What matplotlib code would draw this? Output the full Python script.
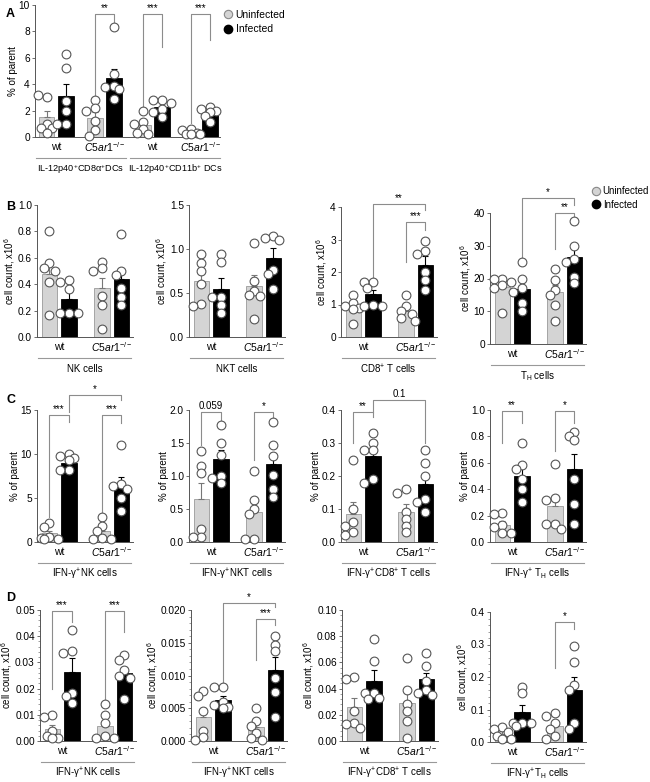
import numpy as np
import matplotlib
matplotlib.use('Agg')
import matplotlib.pyplot as plt
from matplotlib.lines import Line2D
from matplotlib.transforms import ScaledTranslation
from matplotlib.ticker import MultipleLocator, AutoMinorLocator, FormatStrFormatter

plt.rcParams['font.family'] = ['Liberation Sans', 'DejaVu Sans']
plt.rcParams['mathtext.fontset'] = 'custom'
plt.rcParams['mathtext.rm'] = 'Liberation Sans'
plt.rcParams['mathtext.it'] = 'Liberation Sans:italic'

# ---------------- data ----------------
# order inside each panel: wt uninf, wt inf, C5ar1 uninf, C5ar1 inf
a_mean = [1.5, 3.1, 1.45, 4.5, 0.9, 2.3, 0.35, 1.7]
a_sem = [0.5, 0.9, 0.45, 0.65, 0.3, 0.3, 0.1, 0.2]
a_pts = [[3.0, 3.2, 1.0, 0.7, 0.7, 0.3], [6.3, 5.2, 2.7, 2.0, 1.0, 1.0],
         [2.8, 2.2, 2.0, 1.2, 0.5, 0.1], [8.3, 4.8, 3.9, 3.8, 3.6, 2.9],
         [2.0, 1.1, 1.0, 0.6, 0.3, 0.2], [2.8, 2.8, 2.6, 2.1, 1.9, 1.5],
         [0.6, 0.5, 0.3, 0.2, 0.2, 0.2], [2.3, 2.1, 2.0, 1.9, 1.6, 1.1]]

b_nk_mean = [0.48, 0.29, 0.37, 0.44]
b_nk_sem = [0.08, 0.05, 0.08, 0.07]
b_nk_pts = [[0.80, 0.56, 0.52, 0.50, 0.42, 0.17], [0.43, 0.42, 0.36, 0.18, 0.18, 0.18],
            [0.57, 0.52, 0.50, 0.31, 0.24, 0.06], [0.78, 0.50, 0.47, 0.37, 0.30, 0.24]]
b_nkt_mean = [0.64, 0.55, 0.58, 0.90]
b_nkt_sem = [0.10, 0.12, 0.13, 0.11]
b_nkt_pts = [[0.94, 0.84, 0.75, 0.60, 0.37, 0.35], [0.94, 0.85, 0.46, 0.46, 0.36, 0.27],
             [1.07, 0.64, 0.52, 0.48, 0.47, 0.20], [1.15, 1.13, 1.10, 0.76, 0.72, 0.54]]
b_cd8_mean = [0.85, 1.32, 0.80, 2.23]
b_cd8_sem = [0.12, 0.12, 0.10, 0.25]
b_cd8_pts = [[1.3, 1.05, 0.95, 0.9, 0.85, 0.4], [1.7, 1.7, 1.5, 1.0, 0.95, 0.95],
             [1.3, 0.95, 0.8, 0.7, 0.6, 0.5], [2.95, 2.65, 2.55, 2.0, 1.75, 1.45]]
b_th_mean = [17.5, 16.8, 16.0, 26.5]
b_th_sem = [2.0, 2.3, 2.0, 2.8]
b_th_pts = [[20, 20, 19, 18, 17, 9.5], [25, 20, 17, 16, 12.5, 10],
            [23, 19.5, 16.5, 15, 12, 7], [37.5, 30, 26, 25, 20.5, 18.5]]

c_nk_mean = [1.0, 9.0, 1.2, 6.4]
c_nk_sem = [0.3, 0.35, 0.4, 1.0]
c_nk_pts = [[2.2, 1.7, 0.6, 0.5, 0.3, 0.3], [10.0, 9.8, 9.5, 9.3, 8.2, 8.2],
            [2.8, 1.8, 1.2, 0.5, 0.3, 0.3], [11.0, 6.6, 6.4, 6.0, 5.0, 3.5]]
c_nkt_mean = [0.65, 1.26, 0.45, 1.18]
c_nkt_sem = [0.25, 0.13, 0.16, 0.17]
c_nkt_pts = [[1.38, 1.15, 1.04, 0.20, 0.08, 0.08], [1.78, 1.50, 1.32, 1.00, 0.97, 0.90],
             [1.08, 0.64, 0.50, 0.42, 0.05, 0.05], [1.82, 1.47, 1.30, 1.02, 0.80, 0.68]]
c_cd8_mean = [0.085, 0.26, 0.092, 0.177]
c_cd8_sem = [0.035, 0.02, 0.022, 0.03]
c_cd8_pts = [[0.25, 0.10, 0.06, 0.05, 0.03, 0.02], [0.33, 0.30, 0.28, 0.28, 0.19, 0.18],
             [0.16, 0.15, 0.09, 0.07, 0.05, 0.03], [0.28, 0.24, 0.20, 0.13, 0.12, 0.09]]
c_th_mean = [0.13, 0.50, 0.27, 0.55]
c_th_sem = [0.03, 0.07, 0.08, 0.12]
c_th_pts = [[0.22, 0.21, 0.13, 0.11, 0.07, 0.07], [0.75, 0.58, 0.55, 0.48, 0.40, 0.30],
            [0.59, 0.33, 0.32, 0.14, 0.14, 0.10], [0.83, 0.80, 0.77, 0.48, 0.29, 0.14]]

d_nk_mean = [0.0047, 0.0265, 0.0058, 0.0258]
d_nk_sem = [0.0015, 0.005, 0.002, 0.0025]
d_nk_pts = [[0.010, 0.0093, 0.004, 0.002, 0.001, 0.001], [0.0425, 0.0345, 0.0335, 0.0185, 0.017, 0.0145],
            [0.014, 0.010, 0.007, 0.002, 0.001, 0.001], [0.033, 0.031, 0.027, 0.025, 0.024, 0.016]]
d_nkt_mean = [0.0036, 0.0062, 0.0022, 0.0108]
d_nkt_sem = [0.0012, 0.0007, 0.0008, 0.002]
d_nkt_pts = [[0.0077, 0.0068, 0.0046, 0.0016, 0.0006, 0.0001], [0.0083, 0.0083, 0.0060, 0.0055, 0.0052, 0.0050],
             [0.0050, 0.0030, 0.0023, 0.0012, 0.0005, 0.0002], [0.0161, 0.0147, 0.0137, 0.0096, 0.0075, 0.0037]]
d_cd8_mean = [0.026, 0.046, 0.029, 0.047]
d_cd8_sem = [0.007, 0.008, 0.008, 0.005]
d_cd8_pts = [[0.049, 0.047, 0.023, 0.014, 0.013, 0.010], [0.078, 0.061, 0.037, 0.037, 0.033, 0.032],
             [0.063, 0.039, 0.028, 0.023, 0.015, 0.002], [0.067, 0.057, 0.046, 0.039, 0.037, 0.035]]
d_th_mean = [0.025, 0.093, 0.048, 0.16]
d_th_sem = [0.008, 0.02, 0.015, 0.04]
d_th_pts = [[0.045, 0.040, 0.030, 0.020, 0.010, 0.010], [0.17, 0.15, 0.06, 0.06, 0.06, 0.05],
            [0.09, 0.08, 0.06, 0.04, 0.02, 0.01], [0.295, 0.245, 0.175, 0.16, 0.06, 0.04]]

geno = ['wt', r'$\it{C5ar1}^{-/-}$']
a_cells = [r'IL-12p40$^{+}$CD8α$^{+}$DCs', r'IL-12p40$^{+}$CD11b$^{+}$ DCs']
b_cells = ['NK cells', 'NKT cells', r'CD8$^{+}$ T cells', r'T$_{\rm H}$ cells']
c_cells = [r'IFN-γ$^{+}$NK cells', r'IFN-γ$^{+}$NKT cells', r'IFN-γ$^{+}$CD8$^{+}$ T cells', r'IFN-γ$^{+}$ T$_{\rm H}$ cells']
d_cells = [r'IFN-γ$^{+}$NK cells', r'IFN-γ$^{+}$NKT cells', r'IFN-γ$^{+}$CD8$^{+}$ T cells', r'IFN-γ$^{+}$T$_{\rm H}$ cells']

# significance brackets: (bar i, bar j, top, left leg end, right leg end, text)
a_sig = [(2, 3, 9.3, 3.0, 8.7, '**'), (4, 5, 9.3, 2.25, 6.8, '***'), (6, 7, 9.3, 1.05, 7.35, '***')]
b_sig = [[], [], [(1, 3, 4.1, 1.75, 3.9, '**'), (2, 3, 3.54, 2.3, 3.3, '***')],
         [(1, 3, 44.6, 26, 42.4, '*'), (2, 3, 40, 29, 38.8, '**')]]
c_sig = [[(0, 1, 14.4, 2.8, 13.6, '***'), (2, 3, 14.4, 3.4, 13.5, '***'), (1, 3, 16.7, 14.8, 16.1, '*')],
         [(0, 1, 1.97, 1.47, 1.85, '0.059'), (2, 3, 1.97, 1.24, 1.85, '*')],
         [(0, 1, 0.395, 0.30, 0.38, '**'), (1, 3, 0.43, 0.395, 0.30, '0.1')],
         [(0, 1, 0.99, 0.75, 0.90, '**'), (2, 3, 0.99, 0.69, 0.90, '*')]]
d_sig = [[(0, 1, 0.0495, 0.020, 0.0455, '***'), (2, 3, 0.0495, 0.0156, 0.0417, '***')],
         [(1, 3, 0.021, 0.0083, 0.0205, '*'), (2, 3, 0.0186, 0.0123, 0.0177, '***')],
         [],
         [(2, 3, 0.369, 0.227, 0.349, '*')]]

# ---------------- styling / layout ----------------
W, H = 650, 782
fig = plt.figure(figsize=(W / 100, H / 100), dpi=100)

GREY = '#d4d4d4'
LINE = '#8c8c8c'
PX_X = 19.4   # pixels per x unit


def add_ax(l, t, r, b):
    return fig.add_axes([l / W, 1 - b / H, (r - l) / W, (b - t) / H])


def swarm(vals, px_y):
    # small beeswarm so the open circles don't pile up completely
    cands = [0, -5.5, 5.5, -9, 9]
    placed = []
    out = []
    for v in vals:
        best, bestd = 0, -1
        for c in cands:
            dmin = min([np.hypot(c - px, (v - pv) * px_y) for px, pv in placed] + [99])
            if dmin >= 6.5:
                best = c
                break
            if dmin > bestd:
                best, bestd = c, dmin
        placed.append((best, v))
        out.append(best / PX_X)
    return out


def draw(ax, xs, mean, sem, pts, ytop, step, fmt, ylabel, sig, minor=False):
    ax.set_xlim(xs[0] - 0.65, xs[-1] + 0.6)
    ax.set_ylim(0, ytop)
    hpx = ax.get_position().height * H
    px_y = hpx / ytop
    for i, x in enumerate(xs):
        inf = i % 2 == 1
        ax.bar(x, mean[i], 0.82, color='black' if inf else GREY,
               edgecolor='black' if inf else '#9a9a9a', lw=0.6, zorder=2)
        ax.errorbar(x, mean[i], yerr=[[0], [sem[i]]], fmt='none',
                    ecolor='black' if inf else '#777777', elinewidth=0.8,
                    capsize=2, capthick=0.8, zorder=2.5)
        offs = swarm(pts[i], px_y)
        ax.scatter(x + np.array(offs), pts[i], s=40, facecolor='white',
                   edgecolor='#555555', lw=0.8, zorder=3, clip_on=False)
    for i, j, top, yl, yr, txt in sig:
        ax.plot([xs[i], xs[i], xs[j], xs[j]], [yl, top, top, yr], color=LINE,
                lw=0.8, clip_on=False, zorder=1)
        ax.annotate(txt, ((xs[i] + xs[j]) / 2, top), xytext=(0, 1),
                    textcoords='offset pixels', ha='center', va='bottom',
                    fontsize=7, annotation_clip=False)
    for s in ['top', 'right']:
        ax.spines[s].set_visible(False)
    for s in ['left', 'bottom']:
        ax.spines[s].set_color('#555555')
        ax.spines[s].set_linewidth(0.7)
    ax.yaxis.set_major_locator(MultipleLocator(step))
    ax.yaxis.set_major_formatter(FormatStrFormatter(fmt))
    if minor:
        ax.yaxis.set_minor_locator(AutoMinorLocator(5))
        ax.tick_params(axis='y', which='minor', length=1.5, width=0.5, color='#777777')
    ax.tick_params(axis='y', labelsize=7.3, length=2.5, width=0.6, pad=1.2, color='#555555')
    ax.set_xticks([])
    ax.set_ylabel(ylabel, fontsize=7, labelpad=0.5)


def xlabels(ax, centers, names, spans, cells, fs=7):
    for c, n in zip(centers, names):
        ax.annotate(n, (c, 0), xycoords=('data', 'axes fraction'), xytext=(0, -10),
                    textcoords='offset pixels', ha='center', va='center', fontsize=7.5,
                    annotation_clip=False)
    shift = ax.get_xaxis_transform() + ScaledTranslation(0, -21 / 100, fig.dpi_scale_trans)
    for (x0, x1), cell in zip(spans, cells):
        ax.add_line(Line2D([x0, x1], [0, 0], color='#999999', lw=0.8, clip_on=False,
                           transform=shift))
        ax.annotate(cell, ((x0 + x1) / 2, 0), xycoords=('data', 'axes fraction'), xytext=(0, -32),
                    textcoords='offset pixels', ha='center', va='center', fontsize=fs,
                    annotation_clip=False)


# panel A
axA = add_ax(35, 5, 220, 137)
xa = [0, 1, 2.5, 3.5, 5, 6, 7.5, 8.5]
draw(axA, xa, a_mean, a_sem, a_pts, 10, 2, '%d', '% of parent', a_sig)
axA.set_xlim(-0.6, 9.0)
xlabels(axA, [0.5, 3.0, 5.5, 8.0], geno * 2, [(-0.57, 4.1), (4.35, 9.0)], a_cells, fs=6.6)

# panels B-D
xb = [0, 1, 2.75, 3.75]
rows = {
    'B': [(205, 337), (205, 337), (207, 337), (213, 344)],
    'C': [(410, 542)] * 4,
    'D': [(610, 741), (610, 741), (610, 741), (612, 742)],
}
lefts = {
    'B': [37, 189, 341, 490],
    'C': [37, 189, 341, 490],
    'D': [40, 191, 342, 490],
}
cnt = 'cell count, x10$^{6}$'
pct = '% of parent'
panels = {
    'B': [(b_nk_mean, b_nk_sem, b_nk_pts, 1.0, 0.2, '%.1f', cnt),
          (b_nkt_mean, b_nkt_sem, b_nkt_pts, 1.5, 0.5, '%.1f', cnt),
          (b_cd8_mean, b_cd8_sem, b_cd8_pts, 4, 1, '%d', cnt),
          (b_th_mean, b_th_sem, b_th_pts, 40, 10, '%d', cnt)],
    'C': [(c_nk_mean, c_nk_sem, c_nk_pts, 15, 5, '%d', pct),
          (c_nkt_mean, c_nkt_sem, c_nkt_pts, 2.0, 0.5, '%.1f', pct),
          (c_cd8_mean, c_cd8_sem, c_cd8_pts, 0.4, 0.1, '%.1f', pct),
          (c_th_mean, c_th_sem, c_th_pts, 1.0, 0.2, '%.1f', pct)],
    'D': [(d_nk_mean, d_nk_sem, d_nk_pts, 0.05, 0.01, '%.2f', cnt),
          (d_nkt_mean, d_nkt_sem, d_nkt_pts, 0.020, 0.005, '%.3f', cnt),
          (d_cd8_mean, d_cd8_sem, d_cd8_pts, 0.10, 0.02, '%.2f', cnt),
          (d_th_mean, d_th_sem, d_th_pts, 0.4, 0.1, '%.1f', cnt)],
}
sigs = {'B': b_sig, 'C': c_sig, 'D': d_sig}
cells = {'B': b_cells, 'C': c_cells, 'D': d_cells}

for key in ['B', 'C', 'D']:
    for k in range(4):
        t, b = rows[key][k]
        l = lefts[key][k]
        ax = add_ax(l, t, l + 96, b)
        mean, sem, pts, ytop, step, fmt, yl = panels[key][k]
        draw(ax, xb, mean, sem, pts, ytop, step, fmt, yl, sigs[key][k], minor=(key == 'D'))
        xlabels(ax, [0.5, 3.25], geno, [(-0.6, 4.25)], [cells[key][k]])

# panel letters
for letter, (x, y) in {'A': (6, 14), 'B': (6, 207), 'C': (6, 400), 'D': (6, 598)}.items():
    fig.text(x / W, 1 - y / H, letter, fontsize=9, fontweight='bold', va='center')

# legends
handles = [Line2D([], [], marker='o', ls='', mfc=GREY, mec='#888888', ms=6, mew=0.8),
           Line2D([], [], marker='o', ls='', mfc='black', mec='black', ms=6)]
for x, y, fs in [(222, 10, 7.5), (590, 186, 7)]:
    fig.legend(handles, ['Uninfected', 'Infected'], loc='upper left',
               bbox_to_anchor=(x / W, 1 - y / H), frameon=False, fontsize=fs,
               handletextpad=0.1, labelspacing=0.4, borderaxespad=0, borderpad=0,
               handlelength=1.2)

fig.savefig('out.png', dpi=100)
